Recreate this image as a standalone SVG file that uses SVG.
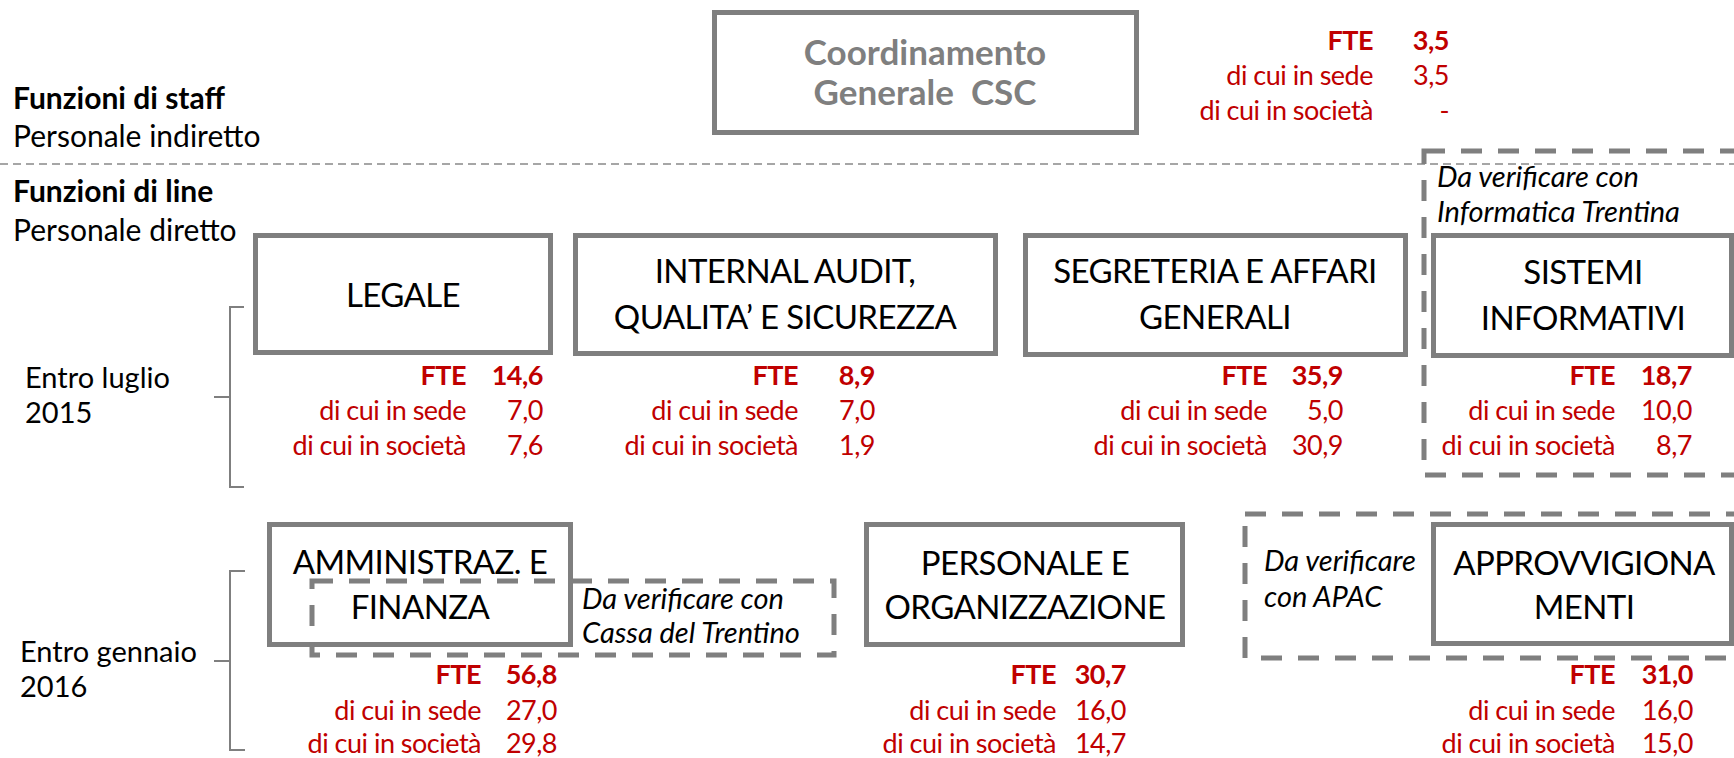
<svg xmlns="http://www.w3.org/2000/svg" width="1734" height="758" viewBox="0 0 1734 758">
<style>
text{font-family:Lato,"Liberation Sans",sans-serif}
.box{fill:#fff;stroke:#7f7f7f;stroke-width:5}
.dbox{fill:none;stroke:#7f7f7f;stroke-width:5;stroke-dasharray:21 16}
.sep{stroke:#a6a6a6;stroke-width:2;stroke-dasharray:8 5}
.br{fill:none;stroke:#7f7f7f;stroke-width:2}
.lbl{font-size:30px;fill:#000}
.b{font-weight:bold}
.per{font-size:29px;fill:#000}
.bt{font-size:33px;letter-spacing:-0.6px;fill:#000;text-anchor:middle}
.ct{font-size:35px;fill:#7f7f7f;font-weight:bold;text-anchor:middle;white-space:pre}
.r{font-size:27px;letter-spacing:-0.5px;fill:#c00000;text-anchor:end}
.it{font-size:29px;fill:#000;font-style:italic}
</style>

<line class="sep" x1="0" y1="164" x2="1734" y2="164"/>

<g id="labels">
<text class="lbl b" x="13" y="109">Funzioni di staff</text>
<text class="lbl" x="13" y="147">Personale indiretto</text>
<text class="lbl b" x="13" y="202">Funzioni di line</text>
<text class="lbl" x="13" y="241">Personale diretto</text>
<text class="per" x="25" y="388">Entro luglio</text>
<text class="per" x="25" y="423">2015</text>
<text class="per" x="20" y="662">Entro gennaio</text>
<text class="per" x="20" y="697">2016</text>
</g>

<g id="connectors">
<path class="br" d="M244,307 H230 V487 H244 M214,397 H230"/>
<path class="br" d="M245,571 H230 V750 H245 M214,661 H230"/>
</g>

<g id="coordinamento">
<rect class="box" x="714.5" y="12.5" width="422" height="120"/>
<text class="ct" x="925" y="65">Coordinamento</text>
<text class="ct" x="925" y="105">Generale  CSC</text>
<text class="r b" x="1373" y="50">FTE</text>
<text class="r b" x="1449" y="50">3,5</text>
<text class="r" x="1373" y="85">di cui in sede</text>
<text class="r" x="1449" y="85">3,5</text>
<text class="r" x="1373" y="120">di cui in società</text>
<text class="r" x="1449" y="120">-</text>
</g>

<g id="legale">
<rect class="box" x="255.5" y="235.5" width="295" height="117"/>
<text class="bt" x="403" y="307">LEGALE</text>
<text class="r b" x="466" y="385">FTE</text>
<text class="r b" x="543" y="385">14,6</text>
<text class="r" x="466" y="420">di cui in sede</text>
<text class="r" x="543" y="420">7,0</text>
<text class="r" x="466" y="455">di cui in società</text>
<text class="r" x="543" y="455">7,6</text>
</g>

<g id="internal-audit">
<rect class="box" x="575.5" y="235.5" width="420" height="118"/>
<text class="bt" x="785" y="283">INTERNAL AUDIT,</text>
<text class="bt" x="785" y="329">QUALITA’ E SICUREZZA</text>
<text class="r b" x="798" y="385">FTE</text>
<text class="r b" x="875" y="385">8,9</text>
<text class="r" x="798" y="420">di cui in sede</text>
<text class="r" x="875" y="420">7,0</text>
<text class="r" x="798" y="455">di cui in società</text>
<text class="r" x="875" y="455">1,9</text>
</g>

<g id="segreteria">
<rect class="box" x="1025.5" y="235.5" width="380" height="119"/>
<text class="bt" x="1215" y="283">SEGRETERIA E AFFARI</text>
<text class="bt" x="1215" y="329">GENERALI</text>
<text class="r b" x="1267" y="385">FTE</text>
<text class="r b" x="1343" y="385">35,9</text>
<text class="r" x="1267" y="420">di cui in sede</text>
<text class="r" x="1343" y="420">5,0</text>
<text class="r" x="1267" y="455">di cui in società</text>
<text class="r" x="1343" y="455">30,9</text>
</g>

<g id="sistemi">
<rect class="dbox" x="1424" y="151" width="330" height="324"/>
<text class="it" x="1437" y="187">Da verificare con</text>
<text class="it" x="1437" y="222">Informatica Trentina</text>
<rect class="box" x="1433.5" y="235.5" width="298" height="120"/>
<text class="bt" x="1583" y="284">SISTEMI</text>
<text class="bt" x="1583" y="330">INFORMATIVI</text>
<text class="r b" x="1615" y="385">FTE</text>
<text class="r b" x="1692" y="385">18,7</text>
<text class="r" x="1615" y="420">di cui in sede</text>
<text class="r" x="1692" y="420">10,0</text>
<text class="r" x="1615" y="455">di cui in società</text>
<text class="r" x="1692" y="455">8,7</text>
</g>

<g id="amministrazione">
<rect class="box" x="269.5" y="524.5" width="301" height="120"/>
<text class="bt" x="420" y="574">AMMINISTRAZ. E</text>
<text class="bt" x="420" y="619">FINANZA</text>
<text class="r b" x="481" y="684">FTE</text>
<text class="r b" x="557" y="684">56,8</text>
<text class="r" x="481" y="720">di cui in sede</text>
<text class="r" x="557" y="720">27,0</text>
<text class="r" x="481" y="753">di cui in società</text>
<text class="r" x="557" y="753">29,8</text>
</g>

<g id="cassa">
<rect class="dbox" x="312" y="581" width="522" height="74"/>
<text class="it" x="582" y="609">Da verificare con</text>
<text class="it" x="582" y="643">Cassa del Trentino</text>
</g>

<g id="personale">
<rect class="box" x="866.5" y="524.5" width="316" height="120"/>
<text class="bt" x="1025" y="575">PERSONALE E</text>
<text class="bt" x="1025" y="619">ORGANIZZAZIONE</text>
<text class="r b" x="1056" y="684">FTE</text>
<text class="r b" x="1126" y="684">30,7</text>
<text class="r" x="1056" y="720">di cui in sede</text>
<text class="r" x="1126" y="720">16,0</text>
<text class="r" x="1056" y="753">di cui in società</text>
<text class="r" x="1126" y="753">14,7</text>
</g>

<g id="approvvigionamenti">
<rect class="dbox" x="1245" y="514" width="520" height="144"/>
<text class="it" x="1264" y="571">Da verificare</text>
<text class="it" x="1264" y="607">con APAC</text>
<rect class="box" x="1433.5" y="524.5" width="298" height="119"/>
<text class="bt" x="1584" y="575">APPROVVIGIONA</text>
<text class="bt" x="1584" y="619">MENTI</text>
<text class="r b" x="1615" y="684">FTE</text>
<text class="r b" x="1693" y="684">31,0</text>
<text class="r" x="1615" y="720">di cui in sede</text>
<text class="r" x="1693" y="720">16,0</text>
<text class="r" x="1615" y="753">di cui in società</text>
<text class="r" x="1693" y="753">15,0</text>
</g>
</svg>
